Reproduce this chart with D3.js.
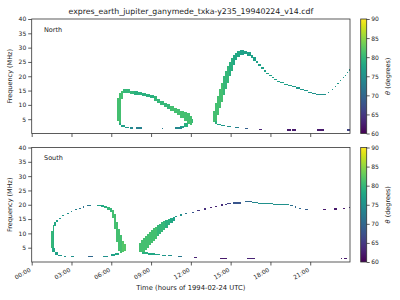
<!DOCTYPE html>
<html>
<head>
<meta charset="utf-8">
<script src="https://cdn.jsdelivr.net/npm/d3@7"></script>
<style>
  body { margin: 0; background: #fff; }
  text { font-family: "DejaVu Sans", sans-serif; fill: #222; }
</style>
</head>
<body>
<svg id="chart" width="400" height="300"></svg>
<script>
const TITLE = "expres_earth_jupiter_ganymede_txka-y235_19940224_v14.cdf";
const timeTicks = [0, 3, 6, 9, 12, 15, 18, 21];
const timeLabels = ["00:00", "03:00", "06:00", "09:00", "12:00", "15:00", "18:00", "21:00"];
const freqTicks = [5, 10, 15, 20, 25, 30, 35, 40];
const thetaTicks = [60, 65, 70, 75, 80, 85, 90];

// rows: [start hour, end hour, low MHz, high MHz, theta deg]
const northLoopA = [
  [6.40, 6.55, 4.5, 12.5, 81], [6.55, 6.70, 3.5, 14.0, 81], [6.70, 6.90, 12.0, 15.0, 81],
  [6.90, 7.10, 14.0, 15.4, 80], [7.10, 7.40, 14.0, 15.4, 80], [7.40, 7.70, 13.9, 15.0, 80],
  [7.70, 8.00, 13.6, 14.7, 79], [8.00, 8.30, 13.3, 14.5, 79], [8.30, 8.60, 13.1, 14.2, 79],
  [8.60, 8.90, 12.8, 13.9, 79], [8.90, 9.20, 12.3, 13.5, 79], [9.20, 9.45, 11.5, 13.0, 80],
  [9.45, 9.70, 10.6, 12.2, 80], [9.70, 9.95, 9.8, 11.4, 80], [9.95, 10.20, 9.2, 10.8, 80],
  [10.20, 10.45, 8.6, 10.2, 80], [10.45, 10.70, 7.9, 9.5, 81], [10.70, 10.95, 7.1, 8.9, 81],
  [10.95, 11.20, 6.5, 8.4, 81], [11.20, 11.45, 5.5, 8.0, 81], [11.45, 11.70, 4.3, 7.6, 81],
  [11.70, 11.90, 3.3, 7.0, 81], [11.90, 12.05, 3.0, 6.2, 81], [12.05, 12.15, 3.5, 5.0, 80],
  [11.50, 11.80, 2.2, 3.5, 79], [11.20, 11.50, 2.0, 2.5, 77],
  [6.55, 6.75, 2.8, 3.7, 78], [6.75, 7.00, 2.3, 3.0, 77], [7.00, 7.30, 2.0, 2.4, 76]
];
const northDashesA = [
  [7.42, 7.65, 1.7, 2.1, 74], [7.90, 8.30, 1.7, 2.1, 73],
  [9.80, 9.90, 1.4, 1.8, 72], [10.80, 11.30, 1.7, 2.1, 74]
];
const northArcB = [
  [13.65, 13.80, 4.0, 8.0, 81], [13.80, 13.95, 4.3, 10.5, 81], [13.95, 14.10, 6.5, 13.0, 81],
  [14.10, 14.25, 9.0, 15.5, 81], [14.25, 14.40, 11.0, 17.5, 81], [14.40, 14.55, 13.5, 20.0, 80],
  [14.55, 14.70, 15.5, 22.0, 80], [14.70, 14.85, 17.5, 23.5, 80], [14.85, 15.00, 20.0, 25.0, 79],
  [15.00, 15.15, 22.0, 26.5, 79], [15.15, 15.30, 24.0, 27.5, 78], [15.30, 15.50, 25.7, 28.2, 78],
  [15.50, 15.70, 26.8, 28.7, 78], [15.70, 16.00, 27.5, 29.0, 77], [16.00, 16.25, 27.6, 28.9, 77],
  [16.25, 16.50, 27.0, 28.3, 77], [16.50, 16.70, 26.3, 27.5, 77], [16.70, 16.90, 25.5, 26.6, 77],
  [16.90, 17.10, 24.6, 25.4, 77], [17.10, 17.30, 23.6, 24.3, 77], [17.30, 17.50, 22.6, 23.2, 77],
  [17.50, 17.70, 21.6, 22.2, 77], [17.70, 17.90, 20.7, 21.2, 77], [17.90, 18.10, 20.0, 20.5, 77],
  [18.10, 18.30, 19.3, 19.7, 77], [18.30, 18.50, 18.7, 19.1, 77], [18.50, 18.70, 18.1, 18.5, 77],
  [18.70, 19.00, 17.5, 17.9, 77], [19.00, 19.30, 17.0, 17.4, 77], [19.30, 19.60, 16.5, 16.9, 77],
  [19.60, 19.90, 16.1, 16.5, 76], [19.90, 20.20, 15.7, 16.1, 76], [20.20, 20.50, 15.3, 15.7, 76],
  [20.50, 20.80, 14.7, 15.1, 76], [20.80, 21.10, 14.1, 14.5, 76], [21.10, 21.40, 13.7, 14.1, 75],
  [21.40, 21.70, 13.4, 13.8, 75], [21.70, 22.00, 13.3, 13.7, 75], [22.00, 22.20, 13.5, 13.9, 75],
  [22.35, 22.45, 14.0, 14.4, 75], [22.65, 22.75, 15.2, 15.6, 76], [22.85, 22.95, 16.2, 16.6, 76],
  [23.05, 23.15, 17.2, 17.6, 76], [23.25, 23.35, 18.3, 18.7, 76], [23.45, 23.55, 19.4, 19.8, 76],
  [23.60, 23.70, 20.2, 20.6, 76], [23.75, 23.85, 21.0, 21.4, 76], [23.90, 24.00, 22.0, 22.6, 76],
  [13.80, 14.00, 3.2, 4.3, 79], [14.00, 14.30, 2.8, 3.4, 77], [14.30, 14.60, 2.5, 2.9, 76]
];
const northDashesB = [
  [14.70, 15.00, 2.2, 2.6, 75], [15.30, 15.60, 2.0, 2.4, 73], [16.10, 16.30, 1.6, 2.0, 69],
  [17.15, 17.35, 1.3, 1.7, 63], [19.25, 19.55, 1.0, 1.4, 62], [19.60, 19.95, 1.0, 1.4, 62],
  [21.50, 22.05, 1.0, 1.4, 62], [23.75, 24.00, 1.0, 1.4, 66]
];

const southLoopA = [
  [1.48, 1.58, 5.0, 11.0, 80], [1.58, 1.70, 4.2, 13.0, 79], [1.70, 1.85, 12.5, 14.0, 78],
  [1.85, 2.00, 13.8, 14.8, 77], [2.05, 2.20, 14.9, 15.5, 76], [2.30, 2.45, 15.9, 16.4, 76],
  [2.65, 2.80, 16.8, 17.2, 75], [2.95, 3.05, 17.4, 17.8, 74], [3.30, 3.40, 18.0, 18.4, 73],
  [3.60, 3.70, 18.6, 19.0, 72], [3.85, 3.95, 19.0, 19.4, 71], [4.15, 4.45, 19.4, 19.8, 72],
  [4.90, 5.20, 19.4, 19.8, 77], [5.20, 5.45, 19.2, 19.8, 78], [5.45, 5.70, 18.9, 19.6, 79],
  [5.70, 5.90, 18.3, 19.3, 80], [5.90, 6.06, 17.4, 19.0, 80], [6.06, 6.21, 15.4, 18.2, 81],
  [6.21, 6.36, 11.5, 16.8, 81], [6.36, 6.51, 7.0, 14.0, 81], [6.51, 6.66, 4.0, 11.5, 81],
  [6.66, 6.81, 3.3, 9.5, 81], [6.81, 6.96, 3.5, 7.5, 82], [6.96, 7.10, 4.0, 6.2, 82],
  [6.30, 6.60, 2.6, 3.3, 78], [6.00, 6.30, 2.2, 2.7, 77],
  [1.55, 1.75, 3.5, 5.0, 78], [1.75, 2.00, 2.6, 3.6, 77]
];
const southDashesA = [
  [2.00, 2.26, 2.2, 2.6, 76], [2.40, 2.62, 1.8, 2.2, 75], [3.00, 3.18, 1.8, 2.2, 75],
  [4.27, 4.65, 1.7, 2.1, 70], [5.40, 5.75, 1.8, 2.2, 75]
];
const southArcB = [
  [8.10, 8.25, 3.6, 6.8, 81], [8.25, 8.40, 3.4, 7.6, 81], [8.40, 8.55, 3.6, 8.4, 81],
  [8.55, 8.70, 4.2, 9.2, 81], [8.70, 8.85, 5.0, 9.9, 81], [8.85, 9.00, 5.8, 10.6, 81],
  [9.00, 9.15, 6.6, 11.3, 81], [9.15, 9.30, 7.4, 11.9, 81], [9.30, 9.45, 8.2, 12.4, 81],
  [9.45, 9.60, 9.0, 12.9, 80], [9.60, 9.75, 9.8, 13.4, 80], [9.75, 9.90, 10.6, 13.8, 80],
  [9.90, 10.05, 11.3, 14.2, 80], [10.05, 10.25, 12.0, 14.6, 79], [10.25, 10.45, 12.8, 15.0, 79],
  [10.45, 10.65, 13.5, 15.4, 78], [10.65, 10.80, 14.2, 15.7, 77],
  [10.80, 10.95, 15.6, 16.2, 76], [11.15, 11.30, 16.1, 16.6, 75], [11.55, 11.70, 16.6, 17.0, 72],
  [12.05, 12.20, 17.2, 17.6, 68], [12.50, 12.70, 17.7, 18.1, 65], [13.00, 13.15, 18.3, 18.7, 64],
  [13.45, 13.60, 18.8, 19.2, 63], [13.85, 14.00, 19.3, 19.7, 63], [14.25, 14.40, 19.7, 20.1, 64],
  [14.55, 14.70, 20.0, 20.4, 65], [14.75, 15.00, 20.2, 20.6, 66], [15.20, 15.80, 20.4, 20.8, 68],
  [16.10, 16.60, 20.9, 21.3, 70], [16.60, 17.10, 20.7, 21.1, 74], [17.10, 17.60, 20.3, 20.7, 75],
  [17.60, 18.20, 20.1, 20.5, 75], [18.20, 19.40, 19.8, 20.2, 75], [19.50, 19.70, 19.5, 19.9, 71],
  [19.85, 19.95, 19.0, 19.4, 70], [20.15, 20.30, 18.5, 18.9, 70], [20.60, 20.80, 18.0, 18.4, 69],
  [21.95, 22.20, 18.0, 18.4, 62], [22.80, 23.00, 18.3, 18.7, 62], [23.45, 23.65, 18.6, 19.0, 62],
  [23.90, 24.00, 18.9, 19.3, 63],
  [8.30, 8.80, 2.9, 3.6, 79], [8.80, 9.30, 2.6, 3.1, 78], [9.30, 9.70, 2.4, 2.8, 77],
  [9.80, 10.10, 2.2, 2.5, 76]
];
const southDashesB = [
  [10.30, 10.55, 2.0, 2.4, 75], [11.06, 11.32, 1.8, 2.2, 72], [12.20, 12.45, 1.5, 1.9, 63],
  [14.20, 14.70, 0.9, 1.3, 62], [16.20, 16.80, 0.9, 1.3, 63], [23.30, 23.42, 0.9, 1.3, 62],
  [23.55, 23.75, 0.9, 1.3, 62]
];

const svg = d3.select("#chart");
const margin = {left: 31.7, right: 50};
const width = 350 - margin.left;
const panelH = 114.5;
const panels = [
  {top: 19, label: "North", rows: [northLoopA, northDashesA, northArcB, northDashesB], xLabels: false},
  {top: 147.5, label: "South", rows: [southLoopA, southDashesA, southArcB, southDashesB], xLabels: true}
];

const x = d3.scaleLinear().domain([0, 24]).range([margin.left, margin.left + width]);
const color = d3.scaleSequential(d3.interpolateViridis).domain([60, 90]);

svg.append("text")
  .attr("x", margin.left + width / 2).attr("y", 14)
  .attr("text-anchor", "middle").attr("font-size", 7.8)
  .text(TITLE);

panels.forEach(function(p) {
  var y = d3.scaleLinear().domain([0, 40]).range([p.top + panelH, p.top]);
  var g = svg.append("g");

  var rows = [].concat.apply([], p.rows);
  g.append("g").attr("shape-rendering", "crispEdges")
    .selectAll("rect").data(rows).enter().append("rect")
    .attr("x", d => x(d[0]))
    .attr("width", d => Math.max(1, x(d[1]) - x(d[0])))
    .attr("y", d => y(d[3]))
    .attr("height", d => Math.max(1, y(d[2]) - y(d[3])))
    .attr("fill", d => color(d[4]));

  // y axis
  var ya = g.append("g")
    .attr("transform", "translate(" + margin.left + ",0)")
    .call(d3.axisLeft(y).tickValues(freqTicks).tickSize(3.5).tickPadding(2));
  ya.select(".domain").remove();
  ya.selectAll("line").attr("stroke", "#333").attr("stroke-width", 0.8);
  ya.selectAll("text").attr("font-size", 6).attr("font-family", "DejaVu Sans").attr("fill", "#222");

  // x axis
  var xa = g.append("g")
    .attr("transform", "translate(0," + (p.top + panelH) + ")")
    .call(d3.axisBottom(x).tickValues(timeTicks).tickSize(3.5)
      .tickFormat((d, i) => p.xLabels ? timeLabels[i] : ""));
  xa.select(".domain").remove();
  xa.selectAll("line").attr("stroke", "#333").attr("stroke-width", 0.8);
  xa.selectAll("text")
    .attr("font-size", 6).attr("font-family", "DejaVu Sans").attr("fill", "#222")
    .attr("x", 0).attr("y", 0).attr("dy", null)
    .attr("text-anchor", "end")
    .attr("transform", "translate(-1,9) rotate(-30)");

  // frame
  g.append("rect")
    .attr("x", margin.left).attr("y", p.top)
    .attr("width", width).attr("height", panelH)
    .attr("fill", "none").attr("stroke", "#333").attr("stroke-width", 0.8);

  g.append("text")
    .attr("x", 44).attr("y", p.top + 12.5)
    .attr("font-size", 6.5).text(p.label);

  g.append("text")
    .attr("transform", "translate(10," + (p.top + panelH / 2) + ") rotate(-90)")
    .attr("text-anchor", "middle").attr("dy", "0.35em")
    .attr("font-size", 6.5).text("Frequency (MHz)");

  // colorbar
  var cbX = 360.7, cbW = 6;
  var cy = d3.scaleLinear().domain([60, 90]).range([p.top + panelH, p.top]);
  var gradId = "grad-" + p.label;
  var grad = svg.append("defs").append("linearGradient")
    .attr("id", gradId).attr("x1", 0).attr("y1", 1).attr("x2", 0).attr("y2", 0);
  d3.range(0, 1.0001, 0.05).forEach(function(s) {
    grad.append("stop").attr("offset", s).attr("stop-color", d3.interpolateViridis(s));
  });
  g.append("rect")
    .attr("x", cbX).attr("y", p.top).attr("width", cbW).attr("height", panelH)
    .attr("fill", "url(#" + gradId + ")")
    .attr("stroke", "#333").attr("stroke-width", 0.8);
  var ca = g.append("g")
    .attr("transform", "translate(" + (cbX + cbW) + ",0)")
    .call(d3.axisRight(cy).tickValues(thetaTicks).tickSize(3).tickPadding(1.5));
  ca.select(".domain").remove();
  ca.selectAll("line").attr("stroke", "#333").attr("stroke-width", 0.8);
  ca.selectAll("text").attr("font-size", 6).attr("font-family", "DejaVu Sans").attr("fill", "#222");

  var cl = g.append("text")
    .attr("transform", "translate(388," + (p.top + panelH / 2) + ") rotate(-90)")
    .attr("text-anchor", "middle").attr("dy", "0.35em")
    .attr("font-size", 6.5);
  cl.append("tspan").attr("font-style", "italic").text("θ");
  cl.append("tspan").text(" (degrees)");
});

svg.append("text")
  .attr("x", margin.left + width / 2).attr("y", 290)
  .attr("text-anchor", "middle").attr("font-size", 6.8)
  .text("Time (hours of 1994-02-24 UTC)");
</script>
</body>
</html>
